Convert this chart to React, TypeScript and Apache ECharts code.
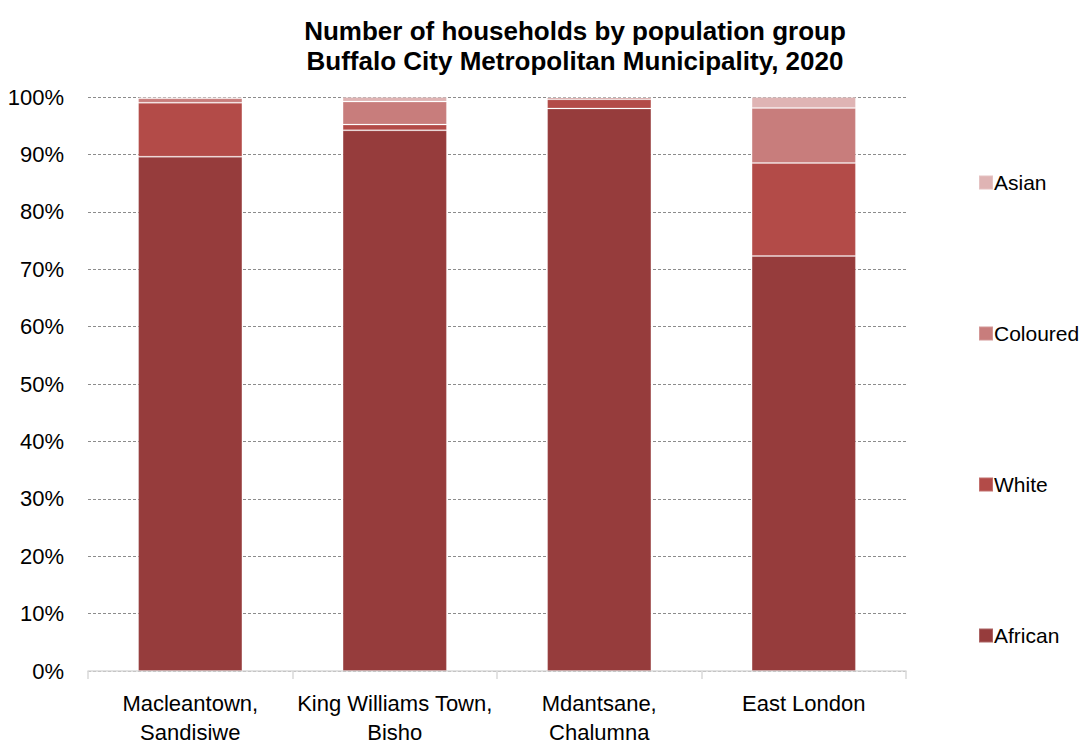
import React, { useEffect, useRef } from "react";
import * as echarts from "echarts";

const categories = ["Macleantown,\nSandisiwe", "King Williams Town,\nBisho", "Mdantsane,\nChalumna", "East London"];
const african = [0.896, 0.942, 0.980, 0.723];
const white = [0.094, 0.010, 0.016, 0.162];
const coloured = [0.008, 0.040, 0.003, 0.096];
const asian = [0.002, 0.008, 0.001, 0.019];
const yTicks = [0, 0.1, 0.2, 0.3, 0.4, 0.5, 0.6, 0.7, 0.8, 0.9, 1];

const FONT = "'Liberation Sans', Arial, sans-serif";

export default function App() {
  const ref = useRef<HTMLDivElement>(null);
  useEffect(() => {
    if (!ref.current) return;
    const chart = echarts.init(ref.current, undefined, { renderer: "svg" });
    const mk = (name: string, data: number[], color: string) => ({
      name,
      type: "bar",
      stack: "total",
      data,
      barWidth: "51%",
      itemStyle: { color, borderColor: "rgba(255,255,255,0.2)", borderWidth: 1 },
    });
    chart.setOption({
      animation: false,
      backgroundColor: "#ffffff",
      textStyle: { fontFamily: FONT },
      title: {
        text: "Number of households by population group\nBuffalo City Metropolitan Municipality, 2020",
        left: 570,
        top: 11,
        textAlign: "center",
        textStyle: { fontFamily: FONT, fontSize: 26, fontWeight: "bold", color: "#000", lineHeight: 30 },
      },
      legend: {
        orient: "vertical",
        left: 973,
        top: 167,
        itemWidth: 14,
        itemHeight: 14,
        itemGap: 130,
        icon: "rect",
        data: ["Asian", "Coloured", "White", "African"],
        textStyle: { fontFamily: FONT, fontSize: 21, color: "#000", padding: [0, 0, 0, -4] },
      },
      grid: { left: 88, right: 180, top: 97, bottom: 78 },
      xAxis: {
        type: "category",
        data: categories,
        axisLine: { lineStyle: { color: "#d9d9d9", width: 1.5 } },
        axisTick: { show: true, interval: 0, length: 8, lineStyle: { color: "#d9d9d9", width: 1.5 } },
        axisLabel: { interval: 0, fontFamily: FONT, fontSize: 22, color: "#000", margin: 18, lineHeight: 29 },
      },
      yAxis: {
        type: "value",
        min: 0,
        max: 1,
        interval: 0.1,
        axisLine: { show: false },
        axisTick: { show: false },
        axisLabel: {
          fontFamily: FONT,
          fontSize: 22,
          color: "#000",
          margin: 24,
          formatter: (v: number) => {
            const t = yTicks.find((x) => Math.abs(x - v) < 1e-6);
            return t === undefined ? "" : Math.round(t * 100) + "%";
          },
        },
        splitLine: { lineStyle: { color: "#8c8c8c", type: [3, 2], width: 1 } },
      },
      series: [
        mk("African", african, "#963c3c"),
        mk("White", white, "#b34b48"),
        mk("Coloured", coloured, "#c87d7c"),
        mk("Asian", asian, "#dfb4b4"),
      ],
    });
    return () => chart.dispose();
  }, []);
  return <div ref={ref} style={{ position: "fixed", left: 0, top: 0, width: 1086, height: 749 }} />;
}
